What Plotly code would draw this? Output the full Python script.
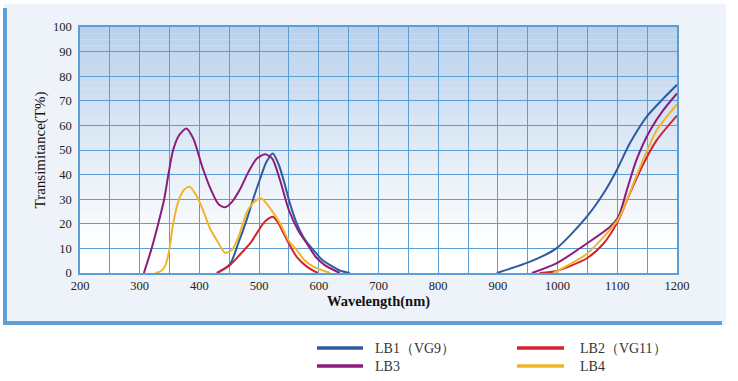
import plotly.graph_objects as go

# ---- data (wavelength nm, transmittance %) ----
lb1_x = [429, 451, 465, 479, 490, 501, 512, 523, 533, 541, 552, 563, 577, 591, 605, 619, 635, 652, None,
         898, 954, 998, 1049, 1077, 1099, 1121, 1149, 1177, 1200]
lb1_y = [0, 3.5, 12, 21.5, 30, 37.8, 45, 48.6, 44, 37.8, 28, 20.2, 13.5, 9.3, 5.5, 3.2, 1, 0, None,
         0, 4.6, 10, 22.9, 32.4, 41.8, 52.7, 63.5, 70.9, 76.5]

lb2_x = [430, 451, 468, 485, 497, 507, 515, 523, 532, 541, 552, 563, 580, 598, None,
         970, 998, 1049, 1077, 1102, 1121, 1144, 1166, 1200]
lb2_y = [0, 3.2, 7.5, 12, 16.5, 20.2, 22, 22.9, 20.5, 16.1, 11, 6.6, 2.6, 0, None,
         0, 0.8, 6, 12, 21.5, 32.4, 44.5, 54, 64]

lb3_x = [307, 320, 331, 341, 348, 356, 366, 378, 390, 405, 420, 432, 443, 455, 468, 482, 496, 510, 522,
         535, 550, 565, 580, 595, 610, 635, None,
         957, 998, 1049, 1088, 1102, 1116, 1132, 1155, 1177, 1200]
lb3_y = [0, 10, 20, 30, 40, 50, 56, 58.7, 54.5, 43, 33.5, 28, 26.7, 29, 34, 41, 46.5, 48.3, 46.5,
         37.8, 25.5, 17.5, 12, 6.5, 3.2, 0, None,
         0, 3.9, 12, 18.8, 22.9, 33.7, 45.9, 58, 66.2, 73]

lb4_x = [326, 336, 343, 350, 356, 366, 375, 384, 396, 406, 418, 429, 443, 455, 466, 480, 492, 504, 518,
         535, 550, 563, 577, 591, 619, None,
         993, 1049, 1102, 1116, 1138, 1166, 1200]
lb4_y = [0, 0.8, 3, 10, 20, 30, 34, 35, 31, 25.6, 18, 13.4, 8.2, 9.5, 15, 25, 29, 30.3, 26.5,
         20.2, 13, 9.3, 5, 2.6, 0, None,
         0, 7.8, 22, 29.6, 43, 58, 68.5]

names = ["LB1（VG9）", "LB2（VG11）", "LB3", "LB4"]
colors = ["#2f5b9f", "#d2232e", "#8c1c7c", "#f1b52c"]
series = [(lb1_x, lb1_y), (lb2_x, lb2_y), (lb3_x, lb3_y), (lb4_x, lb4_y)]
x_ticks = [200, 300, 400, 500, 600, 700, 800, 900, 1000, 1100, 1200]
y_ticks = [0, 10, 20, 30, 40, 50, 60, 70, 80, 90, 100]

SERIF = "Liberation Serif, Times New Roman, serif"

fig = go.Figure()
for (xs, ys), nm, c in zip(series, names, colors):
    fig.add_trace(go.Scatter(x=xs, y=ys, mode="lines", name=nm,
                             line=dict(color=c, width=2, shape="spline", smoothing=0.7),
                             connectgaps=False, showlegend=False))

# plot area geometry in pixels
L, R, T, B = 80, 677, 27, 273
W, H = R - L, B - T
def px(x): return (x - L) / W
def py(y): return (B - y) / H

shapes = []
# outer panel
shapes.append(dict(type="rect", xref="paper", yref="paper", layer="below",
                   x0=px(4), x1=px(726), y0=py(325), y1=py(4),
                   fillcolor="#eef3fa", line=dict(width=0)))
# left and bottom border bars
shapes.append(dict(type="rect", xref="paper", yref="paper", layer="below",
                   x0=px(3), x1=px(7), y0=py(325), y1=py(8),
                   fillcolor="#5f9fd6", line=dict(width=0)))
shapes.append(dict(type="rect", xref="paper", yref="paper", layer="below",
                   x0=px(3), x1=px(722), y0=py(325), y1=py(321),
                   fillcolor="#5f9fd6", line=dict(width=0)))
# gradient plot background
n = 40
top = (186, 209, 236)
bot = (255, 255, 255)
for i in range(n):
    t = i / (n - 1)
    f = min(1.0, t * 1.12)
    col = tuple(int(round(top[k] + (bot[k] - top[k]) * f)) for k in range(3))
    shapes.append(dict(type="rect", xref="paper", yref="paper", layer="below",
                       x0=0, x1=1, y0=1 - (i + 1) / n, y1=1 - i / n,
                       fillcolor="rgb(%d,%d,%d)" % col, line=dict(width=0)))

# legend (manual)
leg = [(317, 363, 348, 373), (517, 564, 348, 578), (317, 363, 366, 373), (517, 564, 366, 578)]
annotations = []
for i, (x0, x1, yy, tx) in enumerate(leg):
    shapes.append(dict(type="line", xref="paper", yref="paper",
                       x0=px(x0), x1=px(x1), y0=py(yy), y1=py(yy),
                       line=dict(color=colors[i], width=3.5)))
    annotations.append(dict(xref="paper", yref="paper", x=px(tx), y=py(yy),
                            text=names[i], showarrow=False, xanchor="left", yanchor="middle",
                            font=dict(family=SERIF, size=14, color="#333")))

grid = "#5c9dd4"
fig.update_layout(
    width=738, height=381,
    margin=dict(l=L, r=738 - R, t=T, b=381 - B),
    paper_bgcolor="white", plot_bgcolor="rgba(0,0,0,0)",
    shapes=shapes, annotations=annotations,
    font=dict(family=SERIF, size=12.5, color="#222"),
    xaxis=dict(range=[200, 1200], tickvals=x_ticks, showgrid=True, gridcolor=grid, gridwidth=1,
               minor=dict(dtick=50, showgrid=True, gridcolor=grid, gridwidth=1),
               showline=True, linecolor=grid, linewidth=1.5, mirror=True, zeroline=False,
               ticks="", ticklen=0,
               title=dict(text="<b>Wavelength(nm)</b>", font=dict(family=SERIF, size=14.5, color="#111"),
                          standoff=3)),
    yaxis=dict(range=[0, 100], tickvals=y_ticks, showgrid=True, gridcolor=grid, gridwidth=1,
               showline=True, linecolor=grid, linewidth=1.5, mirror=True, zeroline=False,
               ticks="", ticklen=0, ticklabelstandoff=4,
               title=dict(text="Transimitance(T%)", font=dict(family=SERIF, size=15, color="#111"),
                          standoff=4)),
)
fig.write_html("out.html", config={"displayModeBar": False},
               post_script="document.body.style.margin='0px';")
